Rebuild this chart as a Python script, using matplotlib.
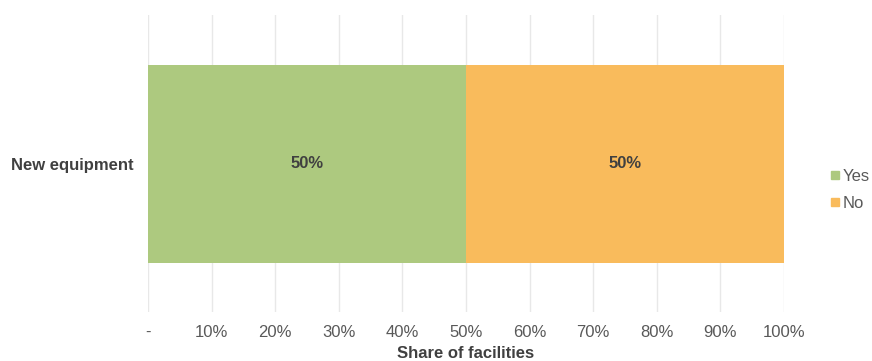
import matplotlib
matplotlib.use('Agg')
import matplotlib.pyplot as plt
from matplotlib.ticker import FuncFormatter
from matplotlib.lines import Line2D

categories = ["New equipment"]
series_names = ["Yes", "No"]
yes_share = [0.50]
no_share = [0.50]
colors = ["#ADC97F", "#F9BB5C"]

plt.rcParams['font.family'] = ['Liberation Sans', 'DejaVu Sans']

fig = plt.figure(figsize=(8.72, 3.61), dpi=100)
ax = fig.add_axes([0.1697, 0.1357, 0.7293, 0.8227])

ypos = range(len(categories))
left = [0.0] * len(categories)
for name, vals, col in zip(series_names, [yes_share, no_share], colors):
    ax.barh(ypos, vals, left=left, height=1.0, color=col, label=name, zorder=2)
    for y, l, v in zip(ypos, left, vals):
        ax.text(l + v / 2, y, f"{v:.0%}", ha='center', va='center',
                fontsize=12, fontweight='bold', color='#404040', zorder=3)
    left = [l + v for l, v in zip(left, vals)]

ax.set_xlim(0, 1)
ax.set_ylim(-0.75, 0.75)
ax.set_xticks([i / 10 for i in range(11)])
ax.xaxis.set_major_formatter(FuncFormatter(lambda x, _: "-" if x == 0 else f"{x:.0%}"))
ax.set_yticks(list(ypos))
ax.set_yticklabels(categories, fontsize=12, fontweight='bold', color='#404040')
ax.tick_params(axis='x', length=0, pad=9, labelsize=12, labelcolor='#595959')
ax.tick_params(axis='y', length=0, pad=10)
ax.grid(axis='x', color='#E8E8E8', linewidth=1.0, zorder=0)
for s in ax.spines.values():
    s.set_visible(False)

ax.set_xlabel("Share of facilities", fontsize=12, fontweight='bold', color='#404040', labelpad=5)

handles = [Line2D([0], [0], marker='s', linestyle='', markersize=6,
                  markerfacecolor=c, markeredgecolor=c) for c in colors]
fig.legend(handles, series_names, loc='center left', bbox_to_anchor=(0.942, 0.474),
           frameon=False, fontsize=12, labelcolor='#595959', handletextpad=0.05,
           handlelength=0.8, borderaxespad=0, labelspacing=0.75)

fig.savefig("out.png", dpi=100)
plt.close(fig)
